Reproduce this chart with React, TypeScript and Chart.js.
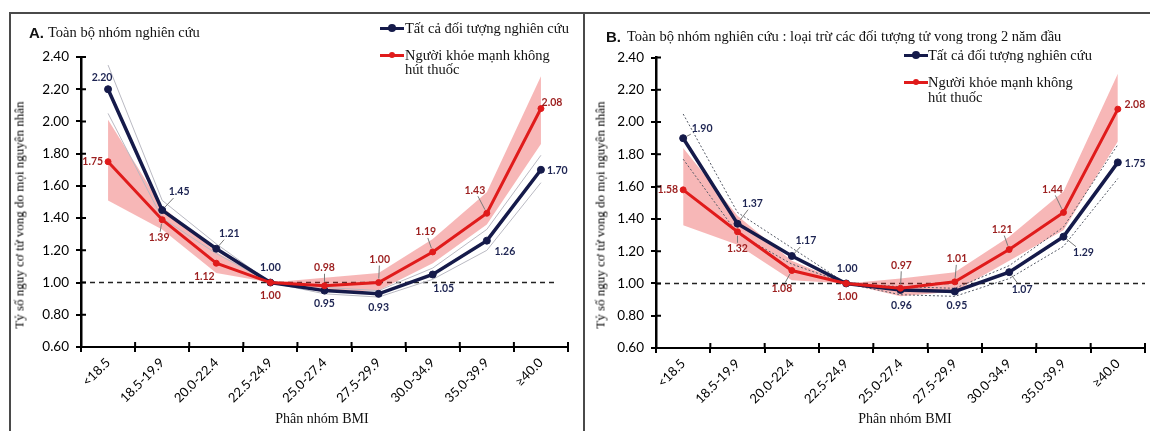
import React, { useEffect, useRef } from "react";
import { Chart, registerables } from "chart.js";

Chart.register(...registerables);

// ---------- data ----------
const categories = ["<18.5", "18.5-19.9", "20.0-22.4", "22.5-24.9", "25.0-27.4", "27.5-29.9", "30.0-34.9", "35.0-39.9", "≥40.0"];
const yTickValues = [0.6, 0.8, 1.0, 1.2, 1.4, 1.6, 1.8, 2.0, 2.2, 2.4];
const yTickLabels = ["0.60", "0.80", "1.00", "1.20", "1.40", "1.60", "1.80", "2.00", "2.20", "2.40"];
const referenceValue = 1.0;

const seriesNames = ["Tất cả đối tượng nghiên cứu", "Người khỏe mạnh không hút thuốc"];
const titleA = "Toàn bộ nhóm nghiên cứu";
const titleB = "Toàn bộ nhóm nghiên cứu : loại trừ các đối tượng tử vong trong 2 năm đầu";
const yAxisTitle = "Tỷ số nguy cơ tử vong do mọi nguyên nhân";
const xAxisTitle = "Phân nhóm BMI";

// Panel A
const allA = [2.2, 1.45, 1.21, 1.0, 0.95, 0.93, 1.05, 1.26, 1.7];
const allALow = [2.05, 1.4, 1.18, 1.0, 0.93, 0.91, 1.02, 1.2, 1.62];
const allAHigh = [2.35, 1.51, 1.24, 1.0, 0.97, 0.95, 1.09, 1.33, 1.79];
const healthyA = [1.75, 1.39, 1.12, 1.0, 0.98, 1.0, 1.19, 1.43, 2.08];
const healthyALow = [1.51, 1.33, 1.06, 1.0, 0.94, 0.95, 1.12, 1.36, 1.86];
const healthyAHigh = [2.01, 1.47, 1.19, 1.0, 1.03, 1.06, 1.27, 1.56, 2.28];

// Panel B
const allB = [1.9, 1.37, 1.17, 1.0, 0.96, 0.95, 1.07, 1.29, 1.75];
const allBLow = [1.77, 1.31, 1.12, 1.0, 0.93, 0.92, 1.03, 1.23, 1.65];
const allBHigh = [2.05, 1.44, 1.22, 1.0, 0.98, 0.97, 1.11, 1.35, 1.86];
const healthyB = [1.58, 1.32, 1.08, 1.0, 0.97, 1.01, 1.21, 1.44, 2.08];
const healthyBLow = [1.36, 1.24, 1.02, 1.0, 0.92, 0.95, 1.14, 1.33, 1.88];
const healthyBHigh = [1.84, 1.42, 1.14, 1.0, 1.03, 1.07, 1.29, 1.57, 2.3];

// ---------- label placement (dx, dy, align, leader) ----------
type LabelSpec = [number, number, CanvasTextAlign, boolean];
const placeAllA: LabelSpec[] = [
  [-6, -12, "center", false], [17, -18, "center", true], [13, -15, "center", true],
  [0, -15, "center", false], [0, 13, "center", false], [0, 14, "center", false],
  [11, 14, "center", false], [18, 11, "center", false], [6, 1, "left", false],
];
const placeHealthyA: LabelSpec[] = [
  [-5, 0, "right", false], [-3, 18, "center", true], [-12, 13, "center", false],
  [0, 13, "center", false], [0, -18, "center", true], [1, -23, "center", true],
  [-7, -20, "center", true], [-12, -23, "center", true], [11, -6, "center", false],
];
const placeAllB: LabelSpec[] = [
  [19, -10, "center", true], [15, -20, "center", true], [14, -15, "center", true],
  [1, -15, "center", false], [1, 16, "center", false], [2, 14, "center", false],
  [13, 17, "center", true], [20, 16, "center", true], [7, 1, "left", false],
];
const placeHealthyB: LabelSpec[] = [
  [-5, 0, "right", false], [0, 17, "center", true], [-10, 18, "center", true],
  [1, 13, "center", false], [1, -23, "center", true], [2, -23, "center", true],
  [-7, -20, "center", true], [-11, -23, "center", true], [17, -5, "center", false],
];

// ---------- styles ----------
const NAVY = "#151a4a";
const RED = "#e01b1b";
const PINK = "rgba(232,48,48,0.35)";
const NAVY_LABEL = "#1d2452";
const RED_LABEL = "#9c1f1f";
const SERIF = "'Liberation Serif', 'DejaVu Serif', serif";
const SANS = "Lato, 'Liberation Sans', sans-serif";

type Panel = {
  all: number[]; allLow: number[]; allHigh: number[];
  healthy: number[]; healthyLow: number[]; healthyHigh: number[];
  placeAll: LabelSpec[]; placeHealthy: LabelSpec[];
  ciColor: string; ciDash: number[];
  yWidth: number; xHeight: number; padTop: number; padRight: number;
  refInset: number;
};

const labelPlugin = (p: Panel) => ({
  id: "valueLabels",
  afterDatasetsDraw(chart: any) {
    const ctx = chart.ctx as CanvasRenderingContext2D;
    ctx.save();
    ctx.font = `bold 10.5px ${SANS}`;
    ctx.textBaseline = "middle";
    const specs = [
      { ds: 1, values: p.all, place: p.placeAll, color: NAVY_LABEL },
      { ds: 0, values: p.healthy, place: p.placeHealthy, color: RED_LABEL },
    ];
    specs.forEach((s) => {
      const meta = chart.getDatasetMeta(s.ds);
      meta.data.forEach((pt: any, i: number) => {
        const [dx, dy, align, leader] = s.place[i];
        const tx = pt.x + dx;
        const ty = pt.y + dy;
        const text = s.values[i].toFixed(2);
        const w = ctx.measureText(text).width;
        if (leader) {
          let cx = tx;
          if (align === "left") cx = tx + w / 2;
          if (align === "right") cx = tx - w / 2;
          const vx = cx - pt.x;
          const vy = ty - pt.y;
          const len = Math.hypot(vx, vy) || 1;
          const ux = vx / len;
          const uy = vy / len;
          const hw = w / 2 + 1;
          const hh = 6;
          const t = Math.min(Math.abs(vx) > 0.01 ? hw / Math.abs(vx) : Infinity, Math.abs(vy) > 0.01 ? hh / Math.abs(vy) : Infinity);
          const ex = cx - vx * t;
          const ey = ty - vy * t;
          const sx = pt.x + ux * 4;
          const sy = pt.y + uy * 4;
          ctx.strokeStyle = "#7a7a7a";
          ctx.lineWidth = 1;
          ctx.setLineDash([]);
          ctx.beginPath();
          ctx.moveTo(sx, sy);
          ctx.lineTo(ex, ey);
          ctx.stroke();
        }
        ctx.fillStyle = s.color;
        ctx.textAlign = align;
        ctx.fillText(text, tx, ty);
      });
    });
    ctx.restore();
  },
});

const refLinePlugin = (p: Panel) => ({
  id: "refLine",
  beforeDatasetsDraw(chart: any) {
    const { ctx, chartArea, scales } = chart;
    const y = scales.y.getPixelForValue(referenceValue);
    ctx.save();
    ctx.setLineDash([5, 4]);
    ctx.strokeStyle = "#222";
    ctx.lineWidth = 1.5;
    ctx.beginPath();
    ctx.moveTo(chartArea.left, y);
    ctx.lineTo(chartArea.right - p.refInset, y);
    ctx.stroke();
    ctx.restore();
  },
});

const innerTicksPlugin = {
  id: "innerTicks",
  afterDraw(chart: any) {
    const { ctx, chartArea, scales } = chart;
    ctx.save();
    ctx.strokeStyle = "#000";
    ctx.lineWidth = 2;
    ctx.beginPath();
    yTickValues.forEach((v) => {
      const y = scales.y.getPixelForValue(v);
      ctx.moveTo(chartArea.left, y);
      ctx.lineTo(chartArea.left + 5, y);
    });
    for (let i = 0; i <= categories.length; i++) {
      const x = scales.x.getPixelForValue(i - 0.5);
      ctx.moveTo(x, chartArea.bottom);
      ctx.lineTo(x, chartArea.bottom - 5);
    }
    ctx.stroke();
    ctx.restore();
  },
};

function makeConfig(p: Panel): any {
  return {
    type: "line",
    data: {
      labels: categories,
      datasets: [
        {
          label: seriesNames[1], data: p.healthy, borderColor: RED, backgroundColor: RED,
          borderWidth: 3, pointRadius: 3, pointBackgroundColor: RED, pointBorderColor: RED,
          pointBorderWidth: 1, tension: 0, order: 0,
        },
        {
          label: seriesNames[0], data: p.all, borderColor: NAVY, backgroundColor: NAVY,
          borderWidth: 3.5, pointRadius: 3.5, pointBackgroundColor: NAVY, pointBorderColor: NAVY,
          pointBorderWidth: 1, tension: 0, order: 1,
        },
        {
          label: "ciHigh", data: p.allHigh, borderColor: p.ciColor, borderWidth: 1,
          borderDash: p.ciDash, pointRadius: 0, tension: 0, order: 2, fill: false,
        },
        {
          label: "ciLow", data: p.allLow, borderColor: p.ciColor, borderWidth: 1,
          borderDash: p.ciDash, pointRadius: 0, tension: 0, order: 2, fill: false,
        },
        {
          label: "bandHigh", data: p.healthyHigh, borderColor: "rgba(0,0,0,0)", borderWidth: 0,
          pointRadius: 0, tension: 0, order: 4, fill: false,
        },
        {
          label: "bandLow", data: p.healthyLow, borderColor: "rgba(0,0,0,0)", borderWidth: 0,
          backgroundColor: PINK, pointRadius: 0, tension: 0, order: 3, fill: "-1",
        },
      ],
    },
    options: {
      animation: false,
      responsive: false,
      devicePixelRatio: 1,
      layout: { padding: { left: 0, top: p.padTop, right: p.padRight, bottom: 0 } },
      plugins: { legend: { display: false }, tooltip: { enabled: false }, title: { display: false } },
      scales: {
        x: {
          type: "category",
          offset: true,
          grid: { display: true, drawOnChartArea: false, drawTicks: true, tickLength: 5, color: "#000", lineWidth: 2, offset: true },
          border: { display: true, color: "#000", width: 2 },
          ticks: { autoSkip: false, maxRotation: 45, minRotation: 45, padding: 3, color: "#000", font: { family: SANS, size: 13 } },
          afterFit: (s: any) => { s.height = p.xHeight; },
        },
        y: {
          type: "linear",
          min: 0.6,
          max: 2.4,
          grid: { display: true, drawOnChartArea: false, drawTicks: true, tickLength: 5, color: "#000", lineWidth: 2 },
          border: { display: true, color: "#000", width: 2.5 },
          afterBuildTicks: (s: any) => { s.ticks = yTickValues.map((v) => ({ value: v })); },
          ticks: {
            padding: 7, color: "#000", font: { family: SANS, size: 13.5 },
            callback: (_v: any, i: number) => yTickLabels[i],
          },
          afterFit: (s: any) => { s.width = p.yWidth; },
        },
      },
    },
    plugins: [refLinePlugin(p), labelPlugin(p), innerTicksPlugin],
  };
}

const panelA: Panel = {
  all: allA, allLow: allALow, allHigh: allAHigh,
  healthy: healthyA, healthyLow: healthyALow, healthyHigh: healthyAHigh,
  placeAll: placeAllA, placeHealthy: placeHealthyA,
  ciColor: "#b9b9c2", ciDash: [],
  yWidth: 71, xHeight: 84, padTop: 43, padRight: 15, refInset: 12,
};
const panelB: Panel = {
  all: allB, allLow: allBLow, allHigh: allBHigh,
  healthy: healthyB, healthyLow: healthyBLow, healthyHigh: healthyBHigh,
  placeAll: placeAllB, placeHealthy: placeHealthyB,
  ciColor: "#555a66", ciDash: [2, 2],
  yWidth: 70, xHeight: 83, padTop: 43.5, padRight: 5, refInset: 0,
};

function ChartCanvas({ panel, left, top, width, height }: { panel: Panel; left: number; top: number; width: number; height: number }) {
  const ref = useRef<HTMLCanvasElement | null>(null);
  useEffect(() => {
    if (!ref.current) return;
    const chart = new Chart(ref.current, makeConfig(panel));
    return () => chart.destroy();
  }, [panel]);
  return (
    <canvas
      ref={ref}
      width={width}
      height={height}
      style={{ position: "absolute", left, top, width, height }}
    />
  );
}

function Text({ x, y, children, size = 14, family = SERIF, bold = false, align = "left", color = "#111" }: any) {
  const tx = align === "left" ? "0" : align === "center" ? "-50%" : "-100%";
  return (
    <div
      style={{
        position: "absolute", left: x, top: y, transform: `translate(${tx}, -50%)`,
        fontFamily: family, fontSize: size, fontWeight: bold ? 700 : 400, color,
        whiteSpace: "nowrap", lineHeight: 1,
      }}
    >
      {children}
    </div>
  );
}

function Marker({ x, y, color, dot }: { x: number; y: number; color: string; dot: number }) {
  return (
    <div style={{ position: "absolute", left: x, top: y - 1.5, width: 24, height: 3, background: color }}>
      <div style={{ position: "absolute", left: 12 - dot, top: 1.5 - dot, width: dot * 2, height: dot * 2, borderRadius: "50%", background: color }} />
    </div>
  );
}

function VTitle({ x, y, children }: any) {
  return (
    <div
      style={{
        position: "absolute", left: x, top: y, transform: "translate(-50%, -50%) rotate(-90deg)",
        fontFamily: SERIF, fontSize: 13, color: "#000", whiteSpace: "nowrap", lineHeight: 1,
      }}
    >
      {children}
    </div>
  );
}

export default function App() {
  useEffect(() => {
    document.body.style.overflow = "hidden";
  }, []);
  return (
    <div style={{ position: "fixed", left: 0, top: 0, width: 1150, height: 431, overflow: "hidden", background: "#fff" }}>
      {/* frame */}
      <div style={{ position: "absolute", left: 9, top: 12, width: 1200, height: 500, borderTop: "2px solid #4a4a4a", borderLeft: "2px solid #4a4a4a" }} />
      <div style={{ position: "absolute", left: 583, top: 12, width: 2, height: 500, background: "#4a4a4a" }} />

      <ChartCanvas panel={panelA} left={10} top={14} width={573} height={417} />
      <ChartCanvas panel={panelB} left={586} top={14} width={564} height={417} />

      {/* Panel A texts */}
      <Text x={29} y={32} size={15} family="'Liberation Sans', Arial, sans-serif" bold>A.</Text>
      <Text x={48} y={32} size={14.5}>{titleA}</Text>
      <Marker x={380} y={28} color={NAVY} dot={4} />
      <Text x={405} y={28} size={14.5}>{seriesNames[0]}</Text>
      <Marker x={380} y={55} color={RED} dot={3} />
      <Text x={405} y={55} size={14.5}>Người khỏe mạnh không</Text>
      <Text x={405} y={69} size={14.5}>hút thuốc</Text>
      <VTitle x={19} y={215}>{yAxisTitle}</VTitle>
      <Text x={322} y={419} size={14} align="center">{xAxisTitle}</Text>

      {/* Panel B texts */}
      <Text x={606} y={36} size={15} family="'Liberation Sans', Arial, sans-serif" bold>B.</Text>
      <Text x={627} y={36} size={14.5}>{titleB}</Text>
      <Marker x={904} y={55} color={NAVY} dot={4} />
      <Text x={928} y={55} size={14.5}>{seriesNames[0]}</Text>
      <Marker x={904} y={82} color={RED} dot={3} />
      <Text x={928} y={82} size={14.5}>Người khỏe mạnh không</Text>
      <Text x={928} y={97} size={14.5}>hút thuốc</Text>
      <VTitle x={600} y={215}>{yAxisTitle}</VTitle>
      <Text x={905} y={419} size={14} align="center">{xAxisTitle}</Text>
    </div>
  );
}
